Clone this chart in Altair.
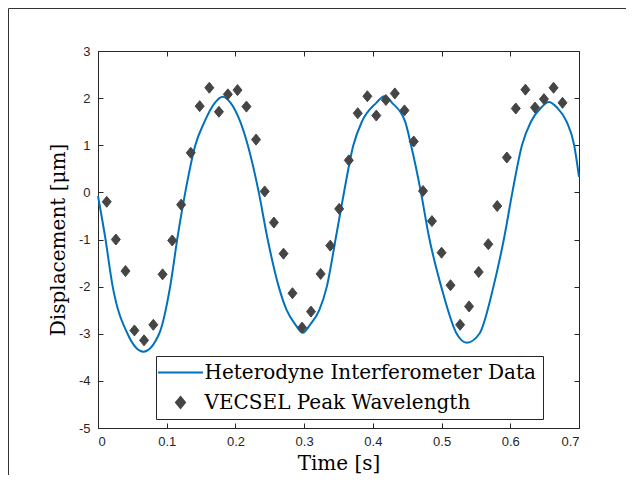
import altair as alt
import pandas as pd

# ---- data ----
line_t = [0.000, 0.0102, 0.0214, 0.043, 0.066, 0.089, 0.105, 0.116, 0.127, 0.1416,
          0.155, 0.170, 0.1815, 0.193, 0.207, 0.218, 0.234, 0.246, 0.263, 0.2746,
          0.287, 0.298, 0.309, 0.322, 0.333, 0.3465, 0.358, 0.3716, 0.384, 0.405,
          0.4168, 0.428, 0.447, 0.4556, 0.470, 0.4815, 0.4995, 0.522, 0.5367, 0.555,
          0.5755, 0.5915, 0.603, 0.617, 0.630, 0.645, 0.656, 0.668, 0.682, 0.693, 0.700]
line_y = [-0.08, -0.93, -2.0, -3.0, -3.38, -3.0, -2.0, -0.93, 0.0, 1.0,
          1.5, 1.9, 2.03, 1.9, 1.5, 1.0, 0.0, -0.93, -2.0, -2.5,
          -2.8, -2.98, -2.8, -2.5, -2.0, -0.93, 0.0, 1.0, 1.5, 1.9,
          2.04, 1.9, 1.5, 1.0, 0.0, -0.93, -2.0, -3.0, -3.19, -3.0,
          -2.0, -0.93, 0.0, 1.0, 1.5, 1.8, 1.92, 1.8, 1.5, 1.0, 0.33]

pt_t = [0.0127, 0.026, 0.040, 0.053, 0.067, 0.0805, 0.094, 0.108, 0.121, 0.135,
        0.148, 0.162, 0.176, 0.189, 0.203, 0.216, 0.230, 0.2426, 0.256, 0.270,
        0.283, 0.297, 0.310, 0.324, 0.338, 0.351, 0.365, 0.378, 0.392, 0.405,
        0.419, 0.432, 0.446, 0.4595, 0.473, 0.486, 0.500, 0.513, 0.527, 0.540,
        0.554, 0.568, 0.581, 0.595, 0.608, 0.622, 0.636, 0.649, 0.663, 0.676]
pt_y = [-0.20, -1.00, -1.67, -2.93, -3.14, -2.81, -1.74, -1.02, -0.26, 0.84,
        1.83, 2.22, 1.71, 2.08, 2.17, 1.82, 1.12, 0.02, -0.64, -1.30,
        -2.14, -2.87, -2.53, -1.73, -1.13, -0.35, 0.68, 1.68, 2.04, 1.63,
        1.96, 2.10, 1.74, 1.08, 0.03, -0.61, -1.28, -1.97, -2.81, -2.42,
        -1.69, -1.10, -0.29, 0.74, 1.78, 2.18, 1.80, 1.98, 2.22, 1.90]

series_names = ["Heterodyne Interferometer Data", "VECSEL Peak Wavelength"]
x_ticks = [0, 0.1, 0.2, 0.3, 0.4, 0.5, 0.6, 0.7]
y_ticks = [-5, -4, -3, -2, -1, 0, 1, 2, 3]

BLUE = "#0072BD"
GRAY = "#454545"
AX = "#262626"
SERIF = "DejaVu Serif"
SANS = "Liberation Sans"

line_df = pd.DataFrame({"t": line_t, "y": line_y})
pt_df = pd.DataFrame({"t": pt_t, "y": pt_y, "series": series_names[1]})

xs = alt.Scale(domain=[0, 0.7], nice=False, zero=False)
ys = alt.Scale(domain=[-5, 3], nice=False, zero=False)

LINE_PATH = "M-4.5,0L4.5,0"
DIAMOND_PATH = "M0,-1.1L0.9,0L0,1.1L-0.9,0Z"

legend = alt.Legend(
    title=None, orient="none", legendX=58, legendY=305,
    strokeColor=AX, fillColor="white", padding=6.5,
    labelFont=SERIF, labelFontSize=20, labelColor="black", labelLimit=600,
    symbolSize=100, symbolStrokeWidth=2, symbolOffset=8, labelOffset=14,
    rowPadding=10,
)

common_ax = dict(values=x_ticks, domain=False, grid=False, tickSize=5, offset=-5,
                 tickColor=AX)

line = alt.Chart(line_df).mark_line(color=BLUE, strokeWidth=2, interpolate="monotone").encode(
    x=alt.X("t:Q", scale=xs, axis=alt.Axis(
        orient="bottom", labelExpr="'' + datum.value", title="Time [s]",
        labelPadding=7, titlePadding=5, **common_ax)),
    y=alt.Y("y:Q", scale=ys, axis=alt.Axis(
        orient="left", values=y_ticks, labelExpr="'' + datum.value",
        title="Displacement [μm]", domain=False, grid=False, tickSize=5, offset=-5,
        tickColor=AX, labelPadding=8, titlePadding=10)),
)

pts = alt.Chart(pt_df).mark_point(filled=True, size=100, opacity=1, strokeWidth=1).encode(
    x=alt.X("t:Q", scale=xs, axis=alt.Axis(orient="top", labels=False, title=None, **common_ax)),
    y=alt.Y("y:Q", scale=ys, axis=alt.Axis(
        orient="right", values=y_ticks, labels=False, title=None, domain=False,
        grid=False, tickSize=5, offset=-5, tickColor=AX)),
    fill=alt.Fill("series:N", scale=alt.Scale(domain=series_names, range=[BLUE, GRAY]), legend=legend),
    stroke=alt.Stroke("series:N", scale=alt.Scale(domain=series_names, range=[BLUE, GRAY]), legend=legend),
    shape=alt.Shape("series:N", scale=alt.Scale(domain=series_names, range=[LINE_PATH, DIAMOND_PATH]), legend=legend),
)

frame_top = alt.Chart(pd.DataFrame({"a": [0]})).mark_rule(color="#333333", strokeWidth=1).encode(
    x=alt.value(-89.5), x2=alt.value(528), y=alt.value(-42.5))
frame_left = alt.Chart(pd.DataFrame({"a": [0]})).mark_rule(color="#333333", strokeWidth=1).encode(
    x=alt.value(-89.5), y=alt.value(-42.5), y2=alt.value(424))

chart = alt.layer(frame_top, frame_left, line, pts).resolve_axis(
    x="independent", y="independent"
).properties(
    width=481, height=377, padding=0
).configure_view(
    stroke=AX, strokeWidth=1
).configure_axis(
    labelFont=SANS, labelFontSize=13, labelColor=AX,
    titleFont=SERIF, titleFontSize=20, titleColor="black", titleFontWeight="normal"
)

chart.save("out.html", embed_options={"renderer": "svg", "actions": False})
